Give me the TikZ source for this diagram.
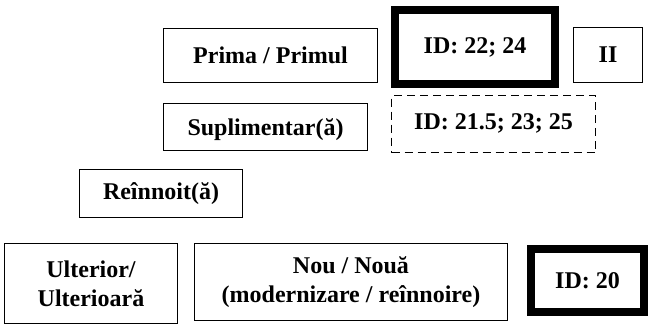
\documentclass[tikz,border=0pt]{standalone}
\usepackage{fontspec}
\setmainfont{Liberation Serif}
\usetikzlibrary{positioning}

\begin{document}
\begin{tikzpicture}[
		x=1pt,
		y=-1pt,
		box/.style={
			draw,
			rectangle,
			line width=1.4pt,
			inner sep=0pt,
			align=center,
			font=\fontsize{24}{29}\selectfont\bfseries,
		},
		thickbox/.style={
			box,
			line width=8pt,
		},
		dashbox/.style={
			box,
			dash pattern=on 8pt off 5pt,
		},
		]
		\useasboundingbox (0,0) rectangle (659,327);
		% Draw the first row
		\node [box,minimum width=214pt,minimum height=54pt] (prima) at (270.5,55.5) {Prima / Primul};
		\node [thickbox,minimum width=160pt,minimum height=74pt] (id1) at (475,47) {ID: 22; 24};
		\node [box,minimum width=69pt,minimum height=55pt] (two) at (608,55) {II};
		% Draw the second row
		\node [box,minimum width=204pt,minimum height=47pt,text height=17pt,text depth=1pt] (supl) at (265.5,127) {Suplimentar(ă)};
		\node [dashbox,minimum width=204pt,minimum height=57pt,text height=17pt,text depth=7pt] (id2) at (493.5,124) {ID: 21.5; 23; 25};
		% Draw the third row
		\node [box,minimum width=163pt,minimum height=48pt] (reinnoit) at (161,193.5) {Reînnoit(ă)};
		% Draw the bottom row
		\node [box,minimum width=173pt,minimum height=80pt] (ulterior) at (91,283.5) {Ulterior/\\Ulterioară};
		\node [box,minimum width=313pt,minimum height=77pt] (nou) at (351,282) {Nou / Nouă\\(modernizare / reînnoire)};
		\node [thickbox,minimum width=113pt,minimum height=63pt] (id3) at (587.5,280.5) {ID: 20};
	\end{tikzpicture}
\end{document}
